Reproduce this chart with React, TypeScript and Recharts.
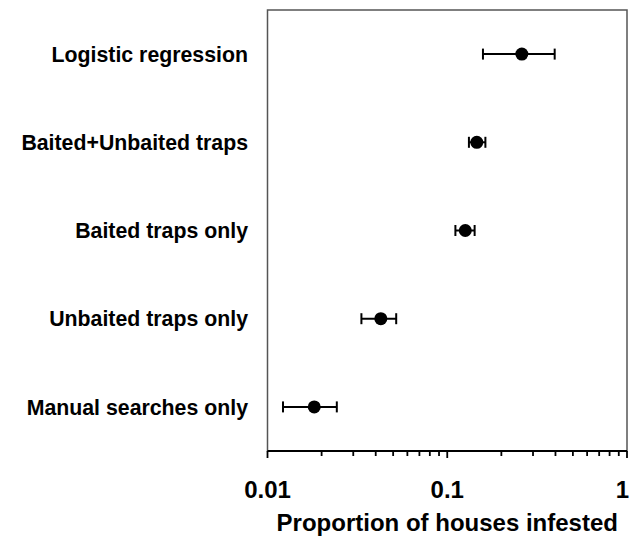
import { ScatterChart, Scatter, XAxis, YAxis, ErrorBar, ReferenceArea } from 'recharts';

const methods = [
  'Logistic regression',
  'Baited+Unbaited traps',
  'Baited traps only',
  'Unbaited traps only',
  'Manual searches only',
];
const proportion = [0.26, 0.146, 0.126, 0.0427, 0.0182];
const lowerCI = [0.158, 0.132, 0.111, 0.0333, 0.0122];
const upperCI = [0.396, 0.163, 0.142, 0.052, 0.0243];

const majorTicks = [0.01, 0.1, 1];
const majorLabels = ['0.01', '0.1', '1'];
const minorTicks = [
  0.02, 0.03, 0.04, 0.05, 0.06, 0.07, 0.08, 0.09,
  0.2, 0.3, 0.4, 0.5, 0.6, 0.7, 0.8, 0.9,
];

const xTitle = 'Proportion of houses infested';
const font = '"Liberation Sans", Arial, sans-serif';

// ErrorBar wants offsets from the point, not absolute bounds
const data = methods.map((name, i) => ({
  name,
  p: proportion[i],
  err: [proportion[i] - lowerCI[i], upperCI[i] - proportion[i]],
}));

function XTick({ x, y, payload }: any) {
  const i = majorTicks.indexOf(payload.value);
  const last = i === majorTicks.length - 1;
  return (
    <g>
      <line x1={x} x2={x} y1={y} y2={y + (i >= 0 ? 7 : 5)} stroke="#000" strokeWidth={1.8} />
      {i >= 0 && (
        // the last label sits against the right edge, keep it inside the page
        <text
          x={last ? Math.min(x + 6, 629) : x}
          y={y + 47}
          textAnchor={last ? 'end' : 'middle'}
          fontSize={24}
          fontWeight="bold"
          fontFamily={font}
          fill="#000"
        >
          {majorLabels[i]}
        </text>
      )}
    </g>
  );
}

function YTick({ x, y, payload }: any) {
  return (
    <text x={x} y={y} dy="0.36em" textAnchor="end" fontSize={21.3} fontWeight="bold" fontFamily={font} fill="#000">
      {payload.value}
    </text>
  );
}

const Dot = ({ cx, cy }: any) => <circle cx={cx} cy={cy} r={6.5} fill="#000" />;

export default function App() {
  return (
    <div style={{ position: 'absolute', left: 0, top: 0 }}>
      <ScatterChart width={630} height={543} margin={{ top: 10, right: 3, bottom: 0, left: 0 }}>
        <ReferenceArea x1={0.01} x2={1} fill="none" stroke="#555" strokeWidth={1.5} />
        <XAxis
          type="number"
          dataKey="p"
          scale="log"
          domain={[0.01, 1]}
          allowDataOverflow
          ticks={[...majorTicks, ...minorTicks].sort((a, b) => a - b)}
          interval={0}
          tick={<XTick />}
          tickLine={false}
          tickSize={0}
          tickMargin={0}
          axisLine={{ stroke: '#000', strokeWidth: 2 }}
          height={92}
          label={{
            value: xTitle,
            position: 'insideBottom',
            offset: 12,
            fontSize: 24,
            fontWeight: 'bold',
            fontFamily: font,
            fill: '#000',
          }}
        />
        <YAxis
          type="category"
          dataKey="name"
          reversed
          width={267.5}
          tick={<YTick />}
          tickLine={false}
          tickSize={0}
          tickMargin={19.5}
          axisLine={false}
          interval={0}
        />
        <Scatter data={data} shape={<Dot />} isAnimationActive={false}>
          <ErrorBar dataKey="err" direction="x" width={5.5} stroke="#000" strokeWidth={2} />
        </Scatter>
      </ScatterChart>
    </div>
  );
}
